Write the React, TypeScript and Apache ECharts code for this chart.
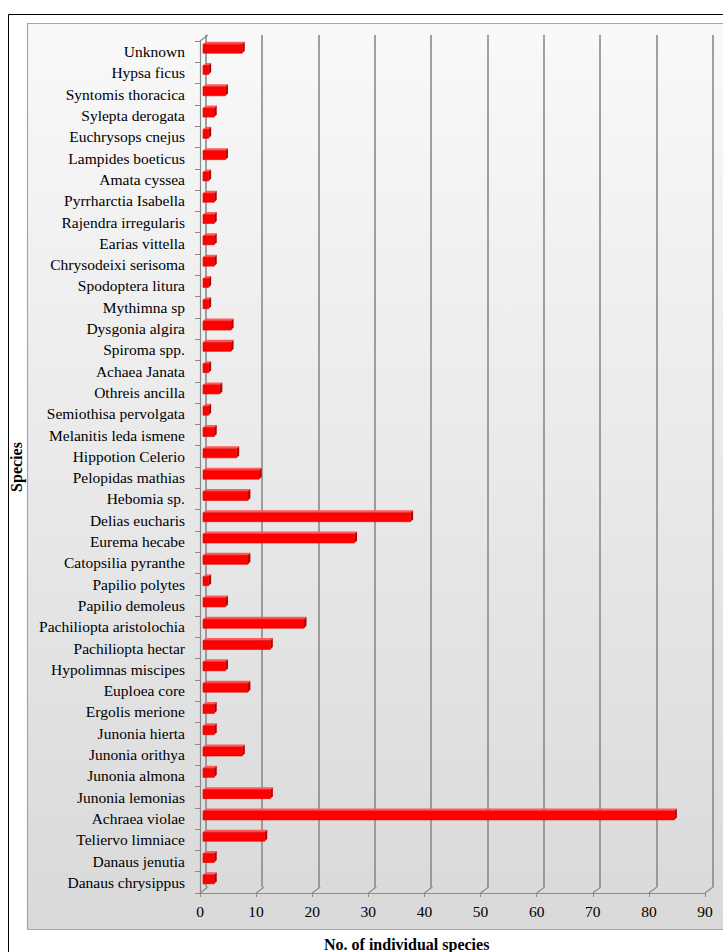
import { useEffect, useRef } from "react";
import * as echarts from "echarts";

// Species, listed top to bottom as drawn on the category axis
const species = [
  "Unknown",
  "Hypsa ficus",
  "Syntomis thoracica",
  "Sylepta derogata",
  "Euchrysops cnejus",
  "Lampides boeticus",
  "Amata cyssea",
  "Pyrrharctia Isabella",
  "Rajendra irregularis",
  "Earias vittella",
  "Chrysodeixi serisoma",
  "Spodoptera litura",
  "Mythimna sp",
  "Dysgonia algira",
  "Spiroma spp.",
  "Achaea Janata",
  "Othreis ancilla",
  "Semiothisa pervolgata",
  "Melanitis leda ismene",
  "Hippotion Celerio",
  "Pelopidas mathias",
  "Hebomia sp.",
  "Delias eucharis",
  "Eurema hecabe",
  "Catopsilia pyranthe",
  "Papilio polytes",
  "Papilio demoleus",
  "Pachiliopta aristolochia",
  "Pachiliopta hectar",
  "Hypolimnas miscipes",
  "Euploea core",
  "Ergolis merione",
  "Junonia hierta",
  "Junonia orithya",
  "Junonia almona",
  "Junonia lemonias",
  "Achraea violae",
  "Teliervo limniace",
  "Danaus jenutia",
  "Danaus chrysippus",
];

// Number of individuals recorded for each species (same order)
const counts = [
  7, 1, 4, 2, 1, 4, 1, 2, 2, 2,
  2, 1, 1, 5, 5, 1, 3, 1, 2, 6,
  10, 8, 37, 27, 8, 1, 4, 18, 12, 4,
  8, 2, 2, 7, 2, 12, 84, 11, 2, 2,
];

// Value-axis ticks
const xTicks = [0, 10, 20, 30, 40, 50, 60, 70, 80, 90];

const FONT = "'Liberation Serif', 'Times New Roman', serif";
const AXIS_GRAY = "#8a8a8a";

// 3D wall depth (back plane offset) and bar depth
const WALL_DX = 8;
const WALL_DY = -6;
const BAR_DX = 2.5;
const BAR_DY = -2.5;

export default function App() {
  const ref = useRef<HTMLDivElement>(null);

  useEffect(() => {
    if (!ref.current) return;
    const chart = echarts.init(ref.current, null, { renderer: "svg" });

    const gridTop = 41;
    const gridLeft = 197.5;
    const gridHeight = 852;
    const gridWidth = 507.5;

    const option: echarts.EChartsCoreOption = {
      animation: false,
      backgroundColor: "#ffffff",
      textStyle: { fontFamily: FONT },
      graphic: [
        {
          type: "rect",
          z: -20,
          silent: true,
          shape: { x: 8.5, y: 14.5, width: 800, height: 1000 },
          style: { fill: "#ffffff", stroke: "#000000", lineWidth: 1 },
        },
        {
          type: "rect",
          z: -19,
          silent: true,
          shape: { x: 27.5, y: 23.5, width: 800, height: 906 },
          style: {
            fill: new echarts.graphic.LinearGradient(0, 0, 0, 1, [
              { offset: 0, color: "#f9f9f9" },
              { offset: 1, color: "#d9d9d9" },
            ]),
            stroke: "#86abd9",
            lineWidth: 1.2,
          },
        },
        {
          type: "text",
          z: 10,
          left: 324,
          top: 936,
          style: {
            text: "No. of individual species",
            font: `bold 16px ${FONT}`,
            fill: "#000000",
          },
        },
      ],
      grid: [
        {
          left: gridLeft,
          top: gridTop,
          width: gridWidth,
          height: gridHeight,
          containLabel: false,
        },
        {
          left: gridLeft + WALL_DX,
          top: gridTop + WALL_DY,
          width: gridWidth,
          height: gridHeight,
          containLabel: false,
        },
      ],
      xAxis: [
        {
          type: "value",
          gridIndex: 0,
          min: 0,
          max: 90,
          interval: 10,
          axisLine: { show: true, lineStyle: { color: AXIS_GRAY, width: 1.2 } },
          axisTick: { show: true, length: 4, lineStyle: { color: AXIS_GRAY } },
          axisLabel: {
            margin: 10,
            fontFamily: FONT,
            fontSize: 15.5,
            color: "#000000",
          },
          splitLine: { show: false },
        },
        {
          type: "value",
          gridIndex: 1,
          min: 0,
          max: 90,
          interval: 10,
          axisLine: { show: false },
          axisTick: { show: false },
          axisLabel: { show: false },
          splitLine: { show: true, lineStyle: { color: AXIS_GRAY, width: 1.6 } },
        },
      ],
      yAxis: [
        {
          type: "category",
          gridIndex: 0,
          data: species,
          inverse: true,
          name: "Species",
          nameLocation: "middle",
          nameRotate: 90,
          nameGap: 176,
          nameTextStyle: {
            fontFamily: FONT,
            fontSize: 16,
            fontWeight: "bold",
            color: "#000000",
          },
          axisLine: { show: true, lineStyle: { color: AXIS_GRAY, width: 1.2 } },
          axisTick: { show: true, length: 5, lineStyle: { color: AXIS_GRAY } },
          axisLabel: {
            margin: 15,
            fontFamily: FONT,
            fontSize: 15.5,
            color: "#000000",
          },
        },
        {
          type: "category",
          gridIndex: 1,
          data: species,
          inverse: true,
          axisLine: { show: false },
          axisTick: { show: false },
          axisLabel: { show: false },
        },
      ],
      series: [
        {
          // floor and wall edges joining the front axes to the back plane
          type: "custom",
          name: "wall",
          xAxisIndex: 0,
          yAxisIndex: 0,
          silent: true,
          z: 1,
          data: xTicks.map((v) => [v, species.length - 1]),
          encode: { x: 0, y: 1 },
          renderItem: (params: any, api: any) => {
            const v = api.value(0);
            const band = api.size([0, 1])[1];
            const pBottom = api.coord([v, species.length - 1]);
            const yb = pBottom[1] + band / 2;
            const children: any[] = [
              {
                type: "line",
                shape: { x1: pBottom[0], y1: yb, x2: pBottom[0] + WALL_DX, y2: yb + WALL_DY },
                style: { stroke: AXIS_GRAY, lineWidth: 1.2 },
              },
            ];
            if (v === 0) {
              const pTop = api.coord([0, 0]);
              const yt = pTop[1] - band / 2;
              children.push({
                type: "line",
                shape: { x1: pTop[0], y1: yt, x2: pTop[0] + WALL_DX, y2: yt + WALL_DY },
                style: { stroke: AXIS_GRAY, lineWidth: 1.2 },
              });
            }
            return { type: "group", children };
          },
        },
        {
          // 3D bars: front face, top face and side face
          type: "custom",
          name: "count",
          xAxisIndex: 0,
          yAxisIndex: 0,
          z: 5,
          data: counts.map((v, i) => [v, i]),
          encode: { x: 0, y: 1 },
          renderItem: (params: any, api: any) => {
            const idx = api.value(1);
            const start = api.coord([0, idx]);
            const end = api.coord([api.value(0), idx]);
            const h = 9;
            const x0 = start[0] + 3;
            const x1 = end[0] + 3;
            const yt = start[1] - 3 - h / 2;
            const yb = yt + h;
            return {
              type: "group",
              children: [
                {
                  type: "polygon",
                  shape: {
                    points: [
                      [x0, yt],
                      [x0 + BAR_DX, yt + BAR_DY],
                      [x1 + BAR_DX, yt + BAR_DY],
                      [x1, yt],
                    ],
                  },
                  style: { fill: "#ff5a5a" },
                },
                {
                  type: "polygon",
                  shape: {
                    points: [
                      [x1, yt],
                      [x1 + BAR_DX, yt + BAR_DY],
                      [x1 + BAR_DX, yb + BAR_DY],
                      [x1, yb],
                    ],
                  },
                  style: { fill: "#b80000" },
                },
                {
                  type: "rect",
                  shape: { x: x0, y: yt, width: x1 - x0, height: h },
                  style: { fill: "#ff0000", stroke: "#e00000", lineWidth: 0.6 },
                },
              ],
            };
          },
        },
      ],
    };

    chart.setOption(option);
    return () => chart.dispose();
  }, []);

  return (
    <div
      ref={ref}
      style={{ position: "absolute", left: 0, top: 0, width: 723, height: 952 }}
    />
  );
}
